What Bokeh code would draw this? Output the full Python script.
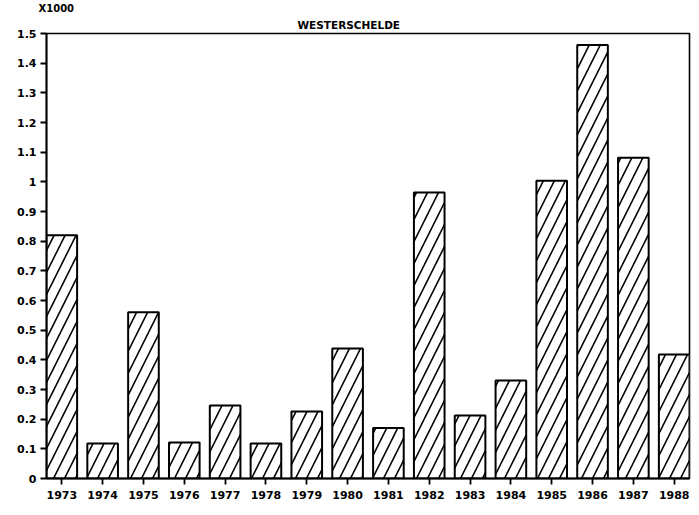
from bokeh.plotting import figure
from bokeh.models import Range1d, FixedTicker, CustomJSTickFormatter, Title
from bokeh.embed import file_html
from bokeh.resources import INLINE

years = [1973, 1974, 1975, 1976, 1977, 1978, 1979, 1980,
         1981, 1982, 1983, 1984, 1985, 1986, 1987, 1988]
values = [0.82, 0.118, 0.56, 0.121, 0.246, 0.118, 0.226, 0.438,
          0.17, 0.964, 0.212, 0.33, 1.004, 1.461, 1.081, 0.418]
y_ticks = [0, 0.1, 0.2, 0.3, 0.4, 0.5, 0.6, 0.7, 0.8, 0.9, 1.0,
           1.1, 1.2, 1.3, 1.4, 1.5]
title_text = "WESTERSCHELDE"
scale_text = "X1000"

BAR_W = 0.75
FONT = "DejaVu Sans"

p = figure(width=691, height=507, output_backend="svg", toolbar_location=None,
           x_range=Range1d(years[0] - BAR_W / 2, years[-1] + BAR_W / 2),
           y_range=Range1d(0, 1.5),
           min_border_left=46, min_border_right=2, min_border_top=0,
           min_border_bottom=29)
p.xgrid.visible = False
p.ygrid.visible = False
p.outline_line_color = "black"
p.outline_line_width = 1.6
p.background_fill_color = "white"
p.border_fill_color = "white"

p.vbar(x=years, top=values, width=BAR_W, bottom=0,
       fill_color="white", line_color="black", line_width=2,
       hatch_pattern="/", hatch_color="black", hatch_scale=22,
       hatch_weight=1.6)

p.xaxis.ticker = FixedTicker(ticks=years)
p.yaxis.ticker = FixedTicker(ticks=y_ticks)
p.yaxis.formatter = CustomJSTickFormatter(
    code="return (Math.round(tick*10)/10).toString();")
for ax in (p.xaxis[0], p.yaxis[0]):
    ax.axis_line_color = "black"
    ax.axis_line_width = 1.8
    ax.major_tick_line_color = "black"
    ax.major_tick_line_width = 1.8
    ax.major_tick_in = 0
    ax.major_tick_out = 6
    ax.minor_tick_line_color = None
    ax.major_label_text_font = FONT
    ax.major_label_text_font_style = "bold"
    ax.major_label_text_font_size = "11px"
    ax.major_label_text_color = "black"
p.xaxis.major_label_standoff = 6
p.yaxis.major_label_standoff = 4

# outer title: scale factor
p.title.text = scale_text
p.title.align = "left"
p.title.offset = -8
p.title.standoff = 0
p.title.text_font = FONT
p.title.text_font_style = "bold"
p.title.text_font_size = "10px"
p.title.text_color = "black"
p.title.text_line_height = 0.9

# inner title: chart name
p.add_layout(Title(text=title_text, align="left", offset=251, standoff=6,
                   text_font=FONT, text_font_style="bold",
                   text_font_size="10.5px", text_color="black",
                   text_line_height=0.9), "above")

open("out.html", "w").write(file_html(p, INLINE))
